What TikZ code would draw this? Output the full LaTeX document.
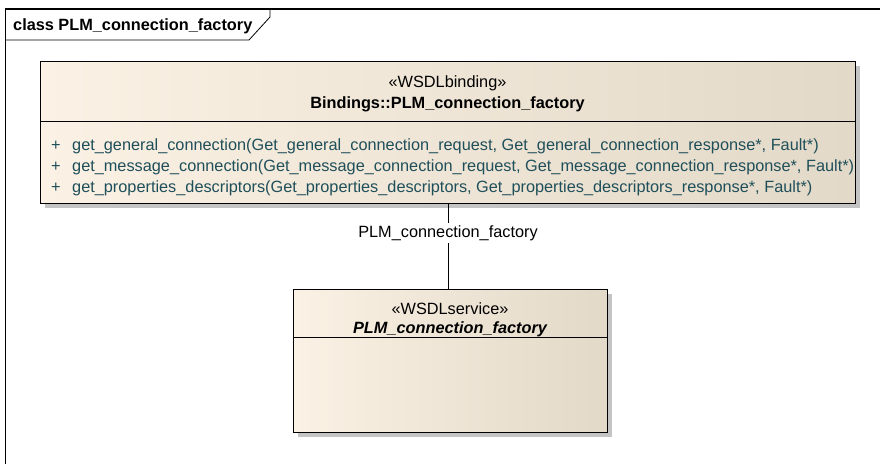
\documentclass[tikz,border=0pt]{standalone}
\usepackage{fontspec}
\setmainfont{Liberation Sans}
\usetikzlibrary{shadows}
\definecolor{boxl}{HTML}{FBF1E4}
\definecolor{boxr}{HTML}{E3D9C8}
\definecolor{optext}{HTML}{1F4F5A}
\definecolor{shadowc}{HTML}{C4C4C4}
\newcommand{\fs}{\fontsize{16.3}{19}\selectfont}
\begin{document}
\begin{tikzpicture}[x=1pt,y=-1pt,
  classbox/.style={draw=black, line width=1pt, left color=boxl, right color=boxr,
    drop shadow={shadow xshift=5pt, shadow yshift=-5pt, fill=shadowc, opacity=1},
    inner sep=0pt},
  txt/.style={font=\fs, inner sep=0pt, anchor=base},
  optxt/.style={font=\fs, inner sep=0pt, anchor=base west, text=optext}]
\useasboundingbox (0,0) rectangle (880,464);
% frame
\draw[line width=1.2pt] (5.5,464) -- (5.5,9) -- (880,9);
\draw[line width=0.8pt] (5.5,40) -- (249,40) -- (270,17) -- (270,9);
\node[font=\bfseries\fs, inner sep=0pt, anchor=base west] (title) at (13,30) {class PLM\_connection\_factory};
% binding class
\node[classbox, minimum width=815pt, minimum height=142pt] (binding) at (447.5,132) {};
\draw[line width=0.8pt] (40,121) -- (855,121);
\node[txt] (bst) at (447.5,87) {«WSDLbinding»};
\node[txt, font=\bfseries\fs] (bname) at (447.5,108) {Bindings::PLM\_connection\_factory};
\node[optxt] (p1) at (51,150) {+};
\node[optxt] (op1) at (72,150) {get\_general\_connection(Get\_general\_connection\_request, Get\_general\_connection\_response*, Fault*)};
\node[optxt] (p2) at (51,171) {+};
\node[optxt] (op2) at (72,171) {get\_message\_connection(Get\_message\_connection\_request, Get\_message\_connection\_response*, Fault*)};
\node[optxt] (p3) at (51,192) {+};
\node[optxt] (op3) at (72,192) {get\_properties\_descriptors(Get\_properties\_descriptors, Get\_properties\_descriptors\_response*, Fault*)};
% service class
\node[classbox, minimum width=314pt, minimum height=143pt] (service) at (450,360.5) {};
\draw[line width=0.8pt] (293,337) -- (607,337);
\node[txt] (sst) at (450,314) {«WSDLservice»};
\node[txt, font=\bfseries\itshape\fs] (sname) at (450,333) {PLM\_connection\_factory};
% connector
\draw[line width=0.8pt] (binding.south -| 448,0) -- (service.north -| 448,0);
\node[fill=white, inner sep=2pt, font=\fs] (lbl) at (448,233) {PLM\_connection\_factory};
\end{tikzpicture}
\end{document}
